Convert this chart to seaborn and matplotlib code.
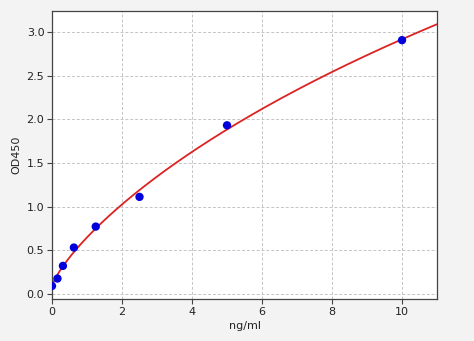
import numpy as np
import pandas as pd
import matplotlib
matplotlib.use("Agg")
import matplotlib.pyplot as plt
import seaborn as sns

conc = [0.0, 0.156, 0.3125, 0.625, 1.25, 2.5, 5.0, 10.0]
od450 = [0.09, 0.175, 0.32, 0.53, 0.77, 1.11, 1.93, 2.905]
x_ticks = [0, 2, 4, 6, 8, 10]
y_ticks = [0.0, 0.5, 1.0, 1.5, 2.0, 2.5, 3.0]

x = np.array(conc)
y = np.array(od450)

# 4-parameter logistic fit (grid over b, c; linear least squares for a, d)
best = None
for b in np.linspace(0.4, 2.0, 81):
    for c in np.logspace(-0.5, 3.5, 161):
        g = 1.0 / (1.0 + (x / c) ** b)
        A = np.column_stack([g, 1 - g])
        coef, *_ = np.linalg.lstsq(A, y, rcond=None)
        r = np.sum((A @ coef - y) ** 2)
        if best is None or r < best[0]:
            best = (r, b, c, coef)
_, b, c, (a, d) = best
xf = np.linspace(0, 11, 300)
yf = d + (a - d) / (1.0 + (xf / c) ** b)

sns.set_style("whitegrid")
fig = plt.figure(figsize=(4.74, 3.41), dpi=100, facecolor="#f3f3f3")
ax = fig.add_axes([0.1097, 0.123, 0.8123, 0.845])
ax.set_facecolor("white")

sns.lineplot(data=pd.DataFrame({"x": xf, "y": yf}), x="x", y="y", ax=ax,
             color="#dd2222", linewidth=1.3, sort=False)
sns.scatterplot(data=pd.DataFrame({"ng/ml": conc, "OD450": od450}), x="ng/ml", y="OD450",
                ax=ax, color="#0000dd", s=36, edgecolor="none", zorder=5)

ax.set_xlim(0, 11)
ax.set_ylim(-0.06, 3.24)
ax.set_xticks(x_ticks)
ax.set_yticks(y_ticks)
ax.set_yticklabels([f"{v:.1f}" for v in y_ticks])
ax.grid(True, linestyle=(0, (3, 2)), color="#c4c4c4", linewidth=0.7)
for s in ax.spines.values():
    s.set_visible(True)
    s.set_color("#444444")
    s.set_linewidth(0.9)
ax.tick_params(axis="both", labelsize=8, length=3.5, width=0.8, color="#444444",
               labelcolor="#222222", pad=2)
ax.tick_params(axis="both", which="major", bottom=True, left=True)
ax.set_xlabel("ng/ml", fontsize=8, color="#222222", labelpad=3)
ax.set_ylabel("OD450", fontsize=8, color="#222222", labelpad=4)

fig.savefig("out.png", dpi=100, facecolor=fig.get_facecolor())
